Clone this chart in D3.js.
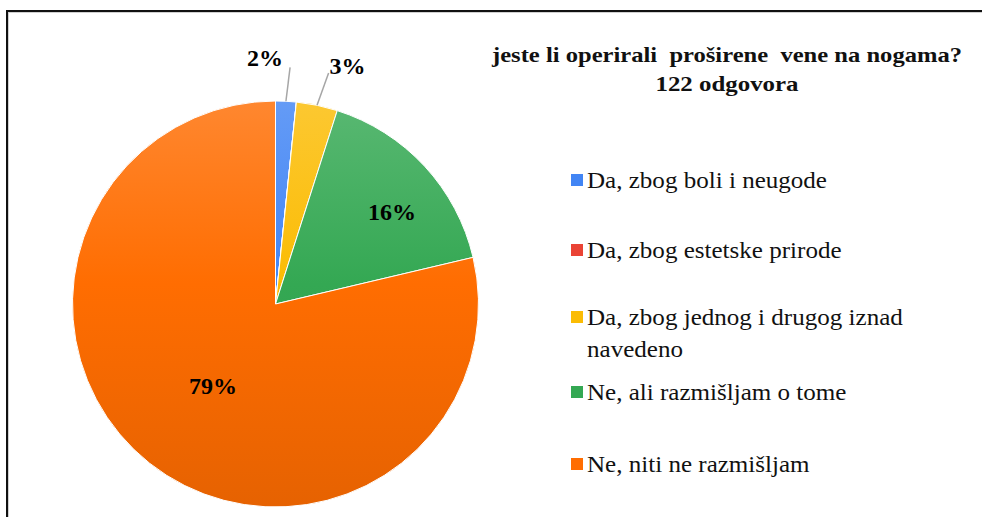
<!DOCTYPE html>
<html>
<head>
<meta charset="utf-8">
<script src="https://cdn.jsdelivr.net/npm/d3@7"></script>
<style>
  html, body { margin: 0; padding: 0; background: #fff; }
</style>
</head>
<body>
<svg id="chart" width="982" height="517"></svg>
<script>
// ---- data ----
const categories = [
  "Da, zbog boli i neugode",
  "Da, zbog estetske prirode",
  "Da, zbog jednog i drugog iznad navedeno",
  "Ne, ali razmišljam o tome",
  "Ne, niti ne razmišljam"
];
const legendLines = [
  ["Da, zbog boli i neugode"],
  ["Da, zbog estetske prirode"],
  ["Da, zbog jednog i drugog iznad", "navedeno"],
  ["Ne, ali razmišljam o tome"],
  ["Ne, niti ne razmišljam"]
];
const counts = [2, 0, 4, 20, 96];
const percentLabels = ["2%", "", "3%", "16%", "79%"];
const colors = ["#4285f4", "#ea4335", "#fbbc04", "#34a853", "#ff6d01"];
const titleLines = ["jeste li operirali  proširene  vene na nogama?", "122 odgovora"];

// ---- layout ----
const FONT = "Liberation Serif";
const svg = d3.select("#chart");
const cx = 275.5, cy = 304, R = 203;

// frame
svg.append("rect").attr("x", 8.5).attr("y", 12.5).attr("width", 1000).attr("height", 600)
  .attr("fill", "none").attr("stroke", "#d0d0d0").attr("stroke-width", 1);
svg.append("rect").attr("x", 7).attr("y", 11).attr("width", 1000).attr("height", 600)
  .attr("fill", "none").attr("stroke", "#111").attr("stroke-width", 2);

// gradients (in the pie group's local coordinates)
const defs = svg.append("defs");
colors.forEach((c, i) => {
  const g = defs.append("linearGradient").attr("id", "g" + i)
    .attr("gradientUnits", "userSpaceOnUse")
    .attr("x1", 0).attr("x2", 0).attr("y1", -R).attr("y2", R);
  g.append("stop").attr("offset", 0).attr("stop-color", d3.interpolateRgb(c, "#ffffff")(0.18));
  g.append("stop").attr("offset", 0.45).attr("stop-color", c);
  g.append("stop").attr("offset", 1).attr("stop-color", d3.interpolateRgb(c, "#000000")(0.1));
});

const pie = d3.pie().sort(null).value(d => d)(counts);
const arc = d3.arc().innerRadius(0).outerRadius(R);
const gPie = svg.append("g").attr("transform", `translate(${cx},${cy})`);

gPie.selectAll("path").data(pie).join("path")
  .attr("d", arc)
  .attr("fill", (d, i) => `url(#g${i})`)
  .attr("stroke", "#fff").attr("stroke-width", 1).attr("stroke-linejoin", "round");

// labels
const insideFactor = {3: 0.73, 4: 0.507};
const angleShift = {3: 0.08, 4: -0.017};
const outer = d3.arc().innerRadius(R).outerRadius(R);
const leaderOuter = d3.arc().innerRadius(R + 34).outerRadius(R + 34);
pie.forEach((d, i) => {
  if (!percentLabels[i]) return;
  const share = d.value / d3.sum(counts);
  if (share > 0.1) {
    const f = insideFactor[i] || 0.6;
    const s = angleShift[i] || 0;
    const a = d3.arc().innerRadius(R * f).outerRadius(R * f);
    const [x, y] = a.centroid({startAngle: d.startAngle + s, endAngle: d.endAngle + s});
    gPie.append("text").attr("x", x).attr("y", y).attr("dy", "0.33em")
      .attr("font-family", FONT)
      .attr("text-anchor", "middle").attr("font-weight", "bold").attr("font-size", 24)
      .attr("fill", "#000").text(percentLabels[i]);
  } else {
    const [x0, y0] = outer.centroid(d);
    const dd = {startAngle: d.startAngle + (i === 0 ? 0.01 : 0.02), endAngle: d.endAngle + (i === 0 ? 0.01 : 0.02)};
    const [x1, y1] = leaderOuter.centroid(dd);
    gPie.append("line").attr("x1", x0).attr("y1", y0).attr("x2", x1).attr("y2", y1)
      .attr("stroke", "#a6a6a6").attr("stroke-width", 1.5);
    const left = i === 0;
    gPie.append("text").attr("x", left ? x1 - 7 : x1 + 1).attr("y", left ? y1 - 1 : y1 + 1)
      .attr("font-family", FONT)
      .attr("text-anchor", left ? "end" : "start").attr("font-weight", "bold").attr("font-size", 24)
      .attr("fill", "#000").text(percentLabels[i]);
  }
});

// title
const titleWidths = [470, 143];
titleLines.forEach((t, i) => {
  svg.append("text").attr("x", 727).attr("y", i === 0 ? 62 : 91)
    .attr("font-family", FONT)
    .attr("text-anchor", "middle").attr("font-weight", "bold").attr("font-size", 21)
    .attr("fill", "#111").style("white-space", "pre")
    .attr("textLength", titleWidths[i]).attr("lengthAdjust", "spacingAndGlyphs")
    .text(t);
});

// legend
const legendBase = [188, 258, 325, 400, 472];
const lineGap = 32;
const legendFont = 23;
const lg = svg.append("g");
let stretch = null;
categories.forEach((c, i) => {
  const y = legendBase[i];
  lg.append("rect").attr("x", 571).attr("y", y - 14).attr("width", 12).attr("height", 12)
    .attr("fill", colors[i]);
  legendLines[i].forEach((ln, j) => {
    const t = lg.append("text").attr("x", 587).attr("y", y + j * lineGap)
      .attr("font-size", legendFont).attr("font-family", FONT).attr("fill", "#111").text(ln);
    const w = t.node().getComputedTextLength();
    if (stretch === null) stretch = 240 / w;
    t.attr("textLength", w * stretch).attr("lengthAdjust", "spacingAndGlyphs");
  });
});
</script>
</body>
</html>
